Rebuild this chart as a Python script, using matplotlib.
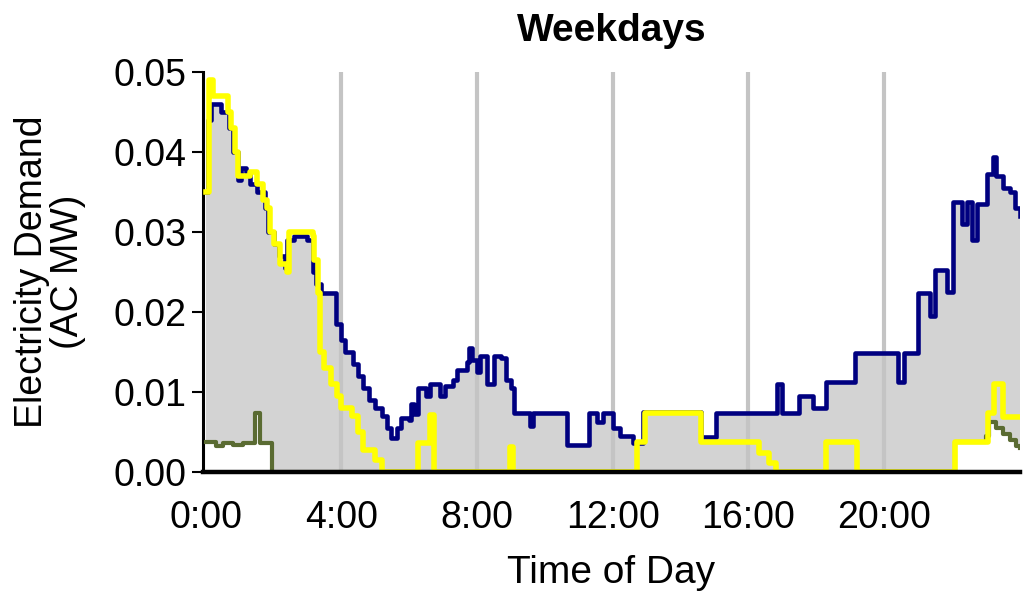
import numpy as np
import matplotlib.pyplot as plt

plt.rcParams['font.family'] = ['Liberation Sans', 'DejaVu Sans']

# step series: hour of day where each step starts, value in AC MW
total_h = [0.0, 0.08, 0.15, 0.45, 0.7, 0.8, 0.95, 1.05, 1.2, 1.3, 1.5, 1.75, 1.85, 2.0,
           2.15, 2.35, 2.4, 2.6, 3.0, 3.15, 3.25, 3.4, 3.85, 4.0, 4.1, 4.35, 4.5, 4.65,
           4.8, 5.0, 5.2, 5.35, 5.45, 5.65, 5.75, 6.0, 6.05, 6.15, 6.25, 6.5, 6.6, 6.9,
           7.05, 7.3, 7.4, 7.7, 7.75, 7.85, 8.0, 8.1, 8.3, 8.5, 8.7, 8.85, 9.0, 9.1,
           9.55, 9.65, 10.65, 11.3, 11.55, 11.7, 12.0, 12.2, 12.6, 12.9, 14.6, 15.05,
           16.85, 17.0, 17.5, 17.9, 18.3, 19.15, 20.4, 20.6, 21.0, 21.36, 21.5, 21.86,
           22.04, 22.3, 22.45, 22.6, 22.75, 23.04, 23.2, 23.3, 23.5, 23.7, 23.85, 24.0]
total_mw = [0.035, 0.044, 0.046, 0.045, 0.043, 0.040, 0.0365, 0.038, 0.0375, 0.036,
            0.035, 0.033, 0.030, 0.0285, 0.027, 0.0255, 0.029, 0.0295, 0.029, 0.025,
            0.0235, 0.0224, 0.0185, 0.0165, 0.015, 0.0135, 0.012, 0.0105, 0.0090, 0.0080,
            0.0070, 0.0055, 0.0042, 0.0055, 0.0068, 0.0065, 0.0085, 0.0072, 0.0105,
            0.0095, 0.0110, 0.0095, 0.0108, 0.0115, 0.0128, 0.0138, 0.0155, 0.0140,
            0.0125, 0.0145, 0.0110, 0.0145, 0.0143, 0.0115, 0.0105, 0.0074, 0.0057,
            0.0074, 0.0034, 0.0074, 0.0062, 0.0074, 0.0055, 0.0045, 0.0036, 0.0075,
            0.0044, 0.0074, 0.0110, 0.0074, 0.0095, 0.0080, 0.0112, 0.0149, 0.0112,
            0.0149, 0.0224, 0.0195, 0.0252, 0.0225, 0.0337, 0.0310, 0.0337, 0.0290,
            0.0335, 0.0373, 0.0394, 0.0370, 0.0355, 0.0350, 0.0330, 0.0320]

pv_h = [0.0, 0.1, 0.2, 0.65, 0.75, 0.85, 0.95, 1.3, 1.5, 1.7, 1.8, 1.9, 2.0, 2.2, 2.4,
        2.45, 3.15, 3.2, 3.3, 3.36, 3.5, 3.7, 3.86, 4.0, 4.3, 4.5, 4.63, 5.0, 5.2,
        6.25, 6.6, 6.72, 8.97, 9.06, 12.7, 12.95, 14.6, 16.3, 16.6, 16.8, 18.3, 19.2,
        22.1, 23.05, 23.25, 23.5, 24.0]
pv_mw = [0.035, 0.049, 0.047, 0.045, 0.043, 0.040, 0.037, 0.0375, 0.036, 0.034, 0.033,
         0.030, 0.0285, 0.026, 0.025, 0.030, 0.0295, 0.0265, 0.0224, 0.015, 0.013,
         0.011, 0.0095, 0.0080, 0.0070, 0.0050, 0.0027, 0.0015, 0.0, 0.0036, 0.0071,
         0.0, 0.0031, 0.0, 0.0037, 0.0074, 0.0037, 0.0024, 0.0011, 0.0, 0.0037, 0.0,
         0.0037, 0.0074, 0.0110, 0.0069, 0.0069]

base_h = [0.0, 0.3, 0.5, 0.8, 1.1, 1.45, 1.6, 1.95, 22.1, 23.0, 23.1, 23.3, 23.5,
          23.7, 23.9, 24.0]
base_mw = [0.0037, 0.0033, 0.0036, 0.0034, 0.0036, 0.0074, 0.0036, 0.0, 0.0037,
           0.0045, 0.0063, 0.0055, 0.0048, 0.0040, 0.0033, 0.0030]

hour_ticks = [0, 4, 8, 12, 16, 20]
hour_labels = ['0:00', '4:00', '8:00', '12:00', '16:00', '20:00']

fig = plt.figure(figsize=(10.28, 5.98), dpi=100)
ax = fig.add_axes([0.1975, 0.2107, 0.7945, 0.669])

ax.fill_between(total_h, total_mw, step='post', color='#d3d3d3', lw=0, zorder=1)
ax.fill_between(base_h, base_mw, step='post', color='white', lw=0, zorder=1.5)
for h in hour_ticks[1:]:
    ax.axvline(h, color='#c4c4c4', lw=3, zorder=2)

ax.step(total_h, total_mw, where='post', color='#000080', lw=3.3, zorder=3)
ax.step(base_h, base_mw, where='post', color='#5a6b32', lw=3.0, zorder=3)
ax.step(pv_h, pv_mw, where='post', color='#ffff00', lw=4.0, zorder=4)

ax.set_xlim(-0.08, 24.0)
ax.set_ylim(0, 0.05)
ax.set_yticks([0, 0.01, 0.02, 0.03, 0.04, 0.05])
ax.set_yticklabels(['0.00', '0.01', '0.02', '0.03', '0.04', '0.05'])
ax.set_xticks(hour_ticks)
ax.set_xticklabels(hour_labels)
ax.tick_params(axis='y', length=8, width=1.5, labelsize=27, pad=4)
ax.tick_params(axis='x', length=0, labelsize=27, pad=20)

for s in ['top', 'right']:
    ax.spines[s].set_visible(False)
ax.spines['left'].set_linewidth(2.2)
ax.spines['bottom'].set_linewidth(3.2)
ax.spines['bottom'].set_zorder(5)

ax.set_title('Weekdays', fontsize=28, fontweight='bold', pad=22)
ax.set_xlabel('Time of Day', fontsize=28, labelpad=14)
ax.set_ylabel('Electricity Demand\n(AC MW)', fontsize=27, labelpad=20, linespacing=1.0)

fig.savefig('out.png', dpi=100)
